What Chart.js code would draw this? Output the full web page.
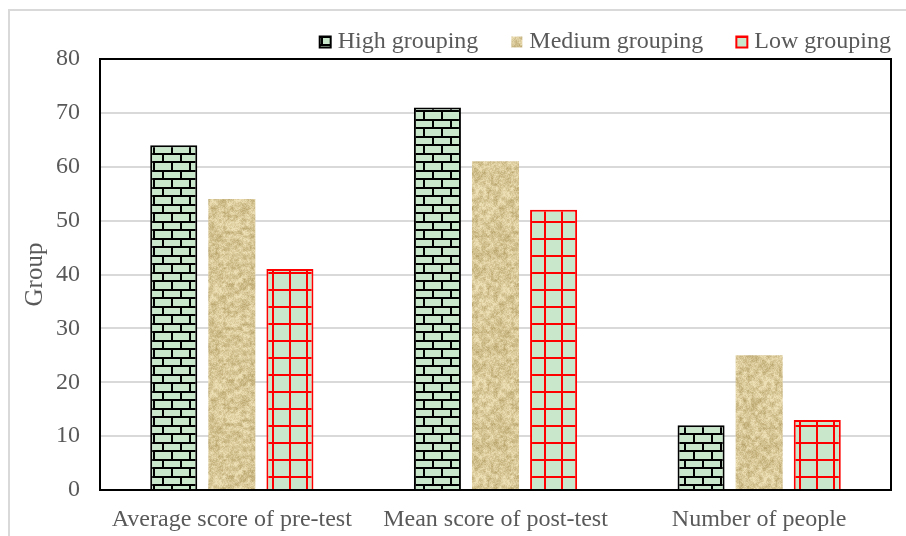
<!DOCTYPE html>
<html>
<head>
<meta charset="utf-8">
<script src="https://cdn.jsdelivr.net/npm/chart.js@4/dist/chart.umd.min.js"></script>
<style>
  html, body { margin: 0; padding: 0; background: #fff; }
  #wrap { width: 906px; height: 536px; position: relative; }
</style>
</head>
<body>
<div id="wrap"><canvas id="c" width="906" height="536"></canvas></div>
<script>
// Group labels and series values
const categories = ['Average score of pre-test', 'Mean score of post-test', 'Number of people'];
const seriesNames = ['High grouping', 'Medium grouping', 'Low grouping'];
const highValues = [64, 71, 12];
const mediumValues = [54, 61, 25];
const lowValues = [41, 52, 13];
const yTicks = [0, 10, 20, 30, 40, 50, 60, 70, 80];

const FONT = '"Liberation Serif", "Times New Roman", serif';
const TEXT = '#595959';
const GREEN = '#c9e8cb';

function makeTile(w, h, paint) {
  const cv = document.createElement('canvas');
  cv.width = w; cv.height = h;
  paint(cv.getContext('2d'), w, h);
  return cv;
}

// Brick fill: green bricks with black mortar
const brickTile = makeTile(36, 17, (g, w, h) => {
  g.fillStyle = GREEN; g.fillRect(0, 0, w, h);
  g.fillStyle = '#000';
  g.fillRect(0, 0, w, 2);
  g.fillRect(0, 8, w, 2);
  g.fillRect(0, 2, 2, 6); g.fillRect(18, 2, 2, 6);
  g.fillRect(9, 10, 2, 7); g.fillRect(27, 10, 2, 7);
});

// Grid fill: red lines over green
const gridTile = makeTile(17, 17, (g, w, h) => {
  g.fillStyle = GREEN; g.fillRect(0, 0, w, h);
  g.fillStyle = '#ff0000';
  g.fillRect(0, 0, 2, h);
  g.fillRect(0, 0, w, 2);
});

// Sand fill: deterministic hashed value noise, tileable
function hash(x, y, s) {
  let n = Math.imul(x, 374761393) ^ Math.imul(y, 668265263) ^ Math.imul(s, 2246822519);
  n = Math.imul(n ^ (n >>> 13), 1274126177);
  n ^= n >>> 16;
  return (n >>> 0) / 4294967295;
}
function valueNoise(x, y, cell, period, seed) {
  const cx = Math.floor(x / cell), cy = Math.floor(y / cell);
  const fx = (x % cell) / cell, fy = (y % cell) / cell;
  const sx = fx * fx * (3 - 2 * fx), sy = fy * fy * (3 - 2 * fy);
  const p = (a, b) => hash(((a % period) + period) % period, ((b % period) + period) % period, seed);
  const a = p(cx, cy), b = p(cx + 1, cy), c = p(cx, cy + 1), d = p(cx + 1, cy + 1);
  return (a * (1 - sx) + b * sx) * (1 - sy) + (c * (1 - sx) + d * sx) * sy;
}
const sandTile = makeTile(96, 96, (g, w, h) => {
  const img = g.createImageData(w, h);
  for (let y = 0; y < h; y++) {
    for (let x = 0; x < w; x++) {
      const t = 0.4 * valueNoise(x, y, 4, 24, 1) + 0.3 * valueNoise(x, y, 2, 48, 2) + 0.3 * hash(x, y, 3);
      const k = Math.min(1, Math.max(0, (t - 0.5) * 1.5 + 0.58));
      const i = (y * w + x) * 4;
      img.data[i] = 184 + k * 54;
      img.data[i + 1] = 164 + k * 60;
      img.data[i + 2] = 108 + k * 74;
      img.data[i + 3] = 255;
    }
  }
  g.putImageData(img, 0, 0);
});

const ctx = document.getElementById('c').getContext('2d');
const brickFill = ctx.createPattern(brickTile, 'repeat');
const gridFill = ctx.createPattern(gridTile, 'repeat');
const sandFill = ctx.createPattern(sandTile, 'repeat');

// Light outer frame and the black box around the plot
const framePlugin = {
  id: 'frame',
  beforeDraw(chart) {
    const g = chart.ctx;
    g.save();
    g.strokeStyle = '#d9d9d9';
    g.lineWidth = 2;
    g.beginPath();
    g.moveTo(9, chart.height);
    g.lineTo(9, 10);
    g.lineTo(chart.width, 10);
    g.stroke();
    g.restore();
  },
  afterDatasetsDraw(chart) {
    const a = chart.chartArea;
    const g = chart.ctx;
    g.save();
    g.strokeStyle = '#000';
    g.lineWidth = 2;
    g.strokeRect(a.left, a.top, a.right - a.left, a.bottom - a.top);
    g.restore();
  }
};

// Legend: fixed band height, flush with the plot's right edge,
// and a tighter gap between each swatch and its text
const LEGEND_TEXT_PULL = 5;
const legendPlacement = {
  id: 'legendPlacement',
  afterInit(chart) {
    const lg = chart.legend;
    if (!lg) return;
    const fit = lg.fit;
    lg.fit = function () { fit.call(this); this.height = 59; };
    const draw = lg.draw;
    lg.draw = function () {
      const g = this.ctx;
      g.save();
      g.translate(this.options.labels.padding + LEGEND_TEXT_PULL, 2);
      const fillText = g.fillText;
      g.fillText = function (t, x, y, m) {
        return m === undefined
          ? fillText.call(this, t, x - LEGEND_TEXT_PULL, y)
          : fillText.call(this, t, x - LEGEND_TEXT_PULL, y, m);
      };
      draw.call(this);
      delete g.fillText;
      g.restore();
    };
  }
};

new Chart(ctx, {
  type: 'bar',
  data: {
    labels: categories,
    datasets: [
      { label: seriesNames[0], data: highValues, backgroundColor: brickFill, borderColor: '#000', borderWidth: 2 },
      { label: seriesNames[1], data: mediumValues, backgroundColor: sandFill, borderColor: 'rgba(0,0,0,0)', borderWidth: 0 },
      { label: seriesNames[2], data: lowValues, backgroundColor: gridFill, borderColor: '#ff0000', borderWidth: 2 }
    ]
  },
  options: {
    responsive: false,
    animation: false,
    devicePixelRatio: 1,
    layout: { padding: { left: 20, right: 15, top: 0, bottom: 0 } },
    datasets: { bar: { categoryPercentage: 0.661, barPercentage: 0.81 } },
    plugins: {
      tooltip: { enabled: false },
      legend: {
        position: 'top',
        align: 'end',
        labels: {
          boxWidth: 11,
          boxHeight: 11,
          padding: 28,
          color: TEXT,
          font: { family: FONT, size: 24 }
        }
      }
    },
    scales: {
      x: {
        grid: { display: false, drawTicks: false },
        border: { display: true, color: '#000', width: 2 },
        ticks: { color: TEXT, font: { family: FONT, size: 24 }, padding: 15, maxRotation: 0 },
        afterFit(s) { s.height = 46; }
      },
      y: {
        min: 0,
        max: 80,
        afterBuildTicks(s) { s.ticks = yTicks.map(v => ({ value: v })); },
        grid: { color: '#d9d9d9', lineWidth: 2, drawTicks: false },
        border: { display: true, color: '#000', width: 2 },
        ticks: { color: TEXT, font: { family: FONT, size: 24 }, padding: 20 },
        title: { display: true, text: 'Group', color: TEXT, font: { family: FONT, size: 25 }, padding: 0 },
        afterFit(s) { s.width = 80; }
      }
    }
  },
  plugins: [framePlugin, legendPlacement]
});
</script>
</body>
</html>
